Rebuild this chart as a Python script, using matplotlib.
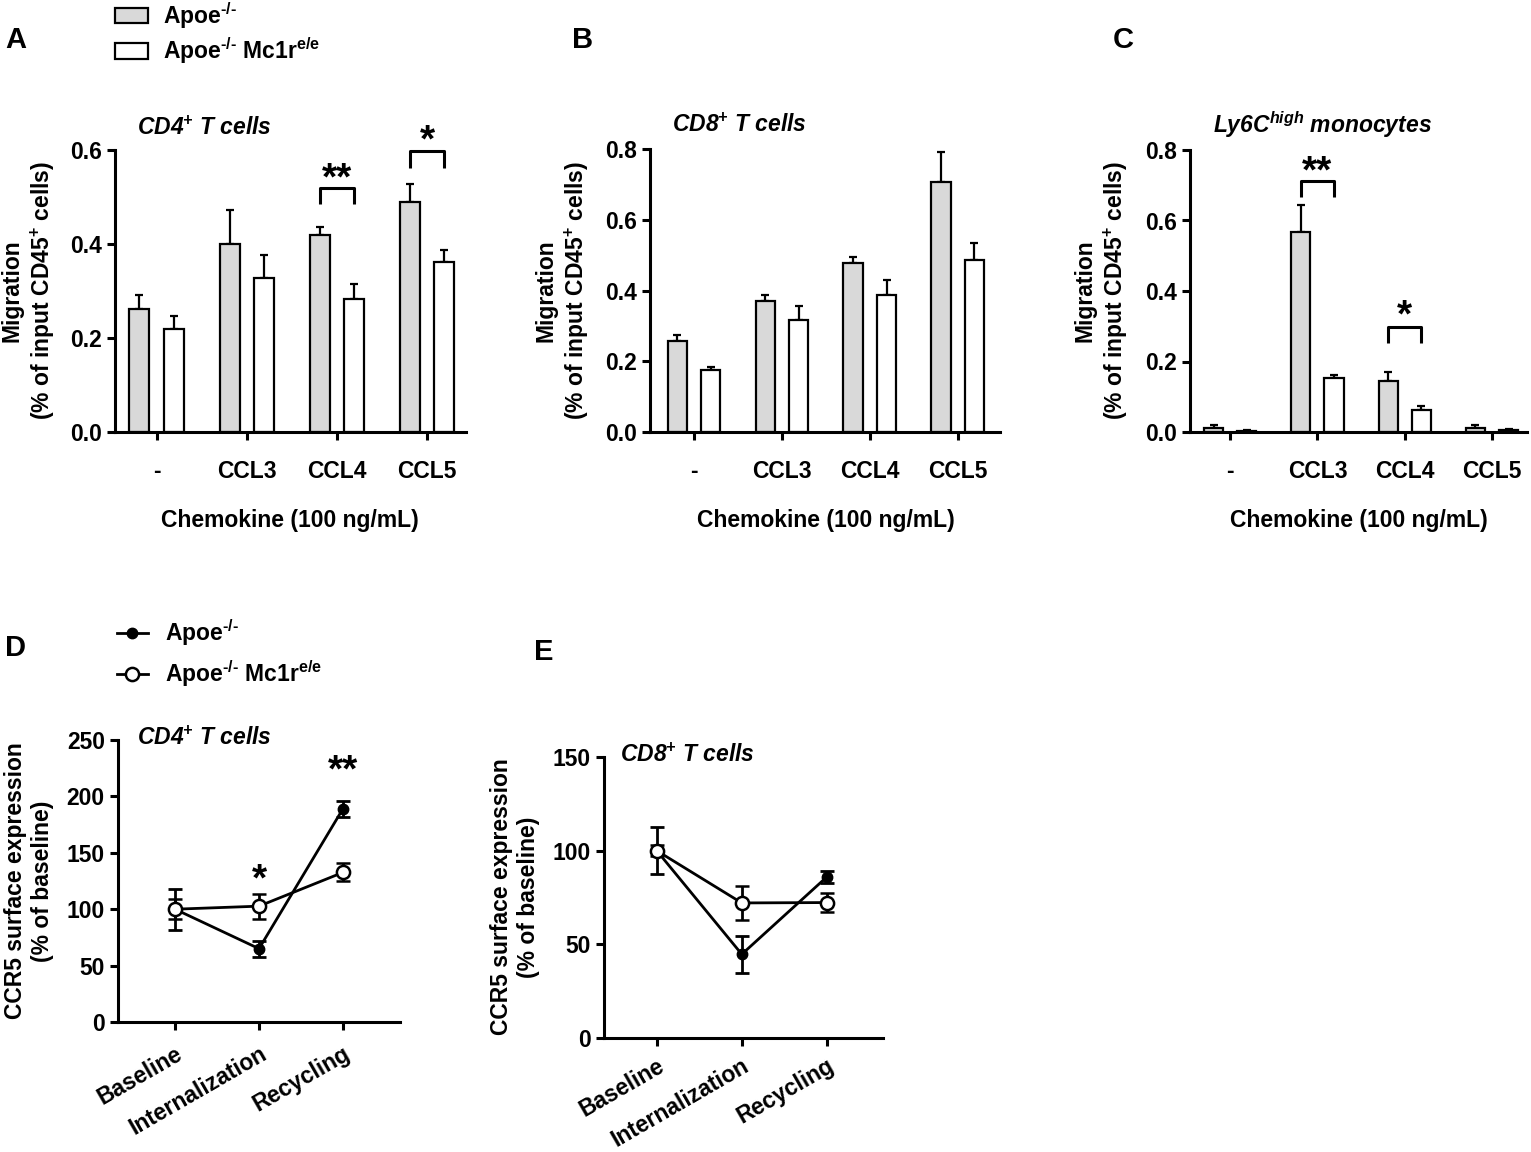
import numpy as np
import matplotlib
matplotlib.use("Agg")
import matplotlib.pyplot as plt

plt.rcParams['font.family'] = ['Liberation Sans', 'DejaVu Sans']
plt.rcParams['font.weight'] = 'bold'
plt.rcParams['mathtext.default'] = 'regular'

# ---------------- data ----------------
chemokines = ['-', 'CCL3', 'CCL4', 'CCL5']
HY = '\u2010'
series_names = ['Apoe$^{%s/%s}$' % (HY, HY), 'Apoe$^{%s/%s}$ Mc1r$^{e/e}$' % (HY, HY)]

# Panel A: CD4+ T cells migration
a_apoe = [0.261, 0.400, 0.420, 0.490]
a_apoe_sem = [0.030, 0.072, 0.016, 0.037]
a_mc1r = [0.220, 0.327, 0.283, 0.361]
a_mc1r_sem = [0.027, 0.050, 0.031, 0.026]

# Panel B: CD8+ T cells migration
b_apoe = [0.258, 0.371, 0.477, 0.708]
b_apoe_sem = [0.015, 0.017, 0.019, 0.083]
b_mc1r = [0.175, 0.318, 0.388, 0.486]
b_mc1r_sem = [0.008, 0.039, 0.043, 0.049]

# Panel C: Ly6C-high monocytes migration
c_apoe = [0.011, 0.567, 0.145, 0.012]
c_apoe_sem = [0.008, 0.076, 0.024, 0.007]
c_mc1r = [0.002, 0.154, 0.062, 0.007]
c_mc1r_sem = [0.003, 0.009, 0.011, 0.002]

# Panels D/E: CCR5 surface expression
phases = ['Baseline', 'Internalization', 'Recycling']
d_apoe = [100, 65, 189]
d_apoe_sem = [18, 7, 7]
d_mc1r = [100, 102.7, 132.6]
d_mc1r_sem = [9, 11, 8]
e_apoe = [100, 44.7, 86]
e_apoe_sem = [12.5, 10, 3]
e_mc1r = [100, 72.1, 72.3]
e_mc1r_sem = [3, 9, 5]

# significance annotations: (group index, label)
a_sig = [(2, '**'), (3, '*')]
c_sig = [(1, '**'), (2, '*')]
d_sig = [(1, '*'), (2, '**')]

# ---------------- layout ----------------
W, H = 1531, 1152
fig = plt.figure(figsize=(W / 100, H / 100), dpi=100)

def add_ax(l, r, t, b):
    return fig.add_axes([l / W, 1 - b / H, (r - l) / W, (b - t) / H])

def fx(x):
    return x / W

def fy(y):
    return 1 - y / H

FS = 16.5
SPW = 2.2
GRAY = '#d9d9d9'
STAR = 28

def style_axes(ax):
    for s in ['top', 'right']:
        ax.spines[s].set_visible(False)
    for s in ['left', 'bottom']:
        ax.spines[s].set_linewidth(SPW)
    ax.tick_params(axis='both', width=SPW, length=5.5, labelsize=FS)
    ax.tick_params(axis='y', pad=4)
    for lab in ax.get_xticklabels() + ax.get_yticklabels():
        lab.set_fontweight('bold')

def add_star(ax, x, y, lab):
    ax.annotate(lab, xy=(x, y), xytext=(0, -0.575 * STAR), textcoords='offset points',
                ha='center', va='baseline', fontsize=STAR, fontweight='bold',
                annotation_clip=False)

def bar_panel(ax, apoe, apoe_sem, mc1r, mc1r_sem, ymax, xlim, sig=None, sig_levels=None):
    x = np.arange(len(chemokines))
    off, w = 0.19, 0.22
    b1 = ax.bar(x - off, apoe, width=w, color=GRAY, edgecolor='black', linewidth=1.6, zorder=2,
                label=series_names[0])
    b2 = ax.bar(x + off, mc1r, width=w, color='white', edgecolor='black', linewidth=1.6, zorder=2,
                label=series_names[1])
    ax.errorbar(x - off, apoe, yerr=[np.zeros(len(x)), apoe_sem], fmt='none', ecolor='black',
                elinewidth=1.6, capsize=2.8, capthick=1.6, zorder=1)
    ax.errorbar(x + off, mc1r, yerr=[np.zeros(len(x)), mc1r_sem], fmt='none', ecolor='black',
                elinewidth=1.6, capsize=2.8, capthick=1.6, zorder=1)
    ax.set_xlim(*xlim)
    ax.set_ylim(0, ymax)
    ax.set_xticks(x)
    ax.set_xticklabels(chemokines)
    ax.set_yticks(np.arange(0, ymax + 1e-9, 0.2))
    ax.set_yticklabels(['%.1f' % v for v in np.arange(0, ymax + 1e-9, 0.2)])
    style_axes(ax)
    ax.tick_params(axis='x', pad=15)
    if sig:
        for (gi, lab), (ytop, yleg, ystar) in zip(sig, sig_levels):
            ax.plot([gi - off, gi - off, gi + off, gi + off], [yleg, ytop, ytop, yleg],
                    color='black', lw=SPW, clip_on=False, solid_capstyle='butt')
            add_star(ax, gi, ystar, lab)
    return b1, b2

# Panel A
axA = add_ax(115, 466, 150, 432)
bA = bar_panel(axA, a_apoe, a_apoe_sem, a_mc1r, a_mc1r_sem, 0.6, (-0.46, 3.43),
               a_sig, [(0.519, 0.486, 0.563), (0.598, 0.562, 0.645)])
# Panel B
axB = add_ax(650, 1000, 149, 432)
bar_panel(axB, b_apoe, b_apoe_sem, b_mc1r, b_mc1r_sem, 0.8, (-0.5, 3.48))
# Panel C
axC = add_ax(1190, 1527, 150, 432)
bar_panel(axC, c_apoe, c_apoe_sem, c_mc1r, c_mc1r_sem, 0.8, (-0.46, 3.40),
          c_sig, [(0.713, 0.666, 0.770), (0.298, 0.253, 0.362)])

def line_panel(ax, apoe, apoe_sem, mc1r, mc1r_sem, ymax, ystep, xlim, sig=None, sig_y=None,
               xpad=9):
    x = np.arange(len(phases))
    l1 = ax.errorbar(x, apoe, yerr=apoe_sem, fmt='-o', color='black', lw=2.0, ms=7.5,
                     mfc='black', mec='black', elinewidth=2.0, capsize=4.7, capthick=2.0,
                     zorder=3, label=series_names[0])
    l2 = ax.errorbar(x, mc1r, yerr=mc1r_sem, fmt='-o', color='black', lw=2.0, ms=9.5,
                     mfc='white', mec='black', mew=1.8, elinewidth=2.0, capsize=4.7, capthick=2.0,
                     zorder=4, label=series_names[1])
    ax.set_xlim(*xlim)
    ax.set_ylim(0, ymax)
    ax.set_xticks(x)
    ax.set_xticklabels(phases, rotation=30, ha='right', rotation_mode='anchor')
    ax.set_yticks(np.arange(0, ymax + 1, ystep))
    style_axes(ax)
    ax.tick_params(axis='x', pad=xpad)
    if sig:
        for (gi, lab), ys in zip(sig, sig_y):
            add_star(ax, gi, ys, lab)
    return l1[0], l2[0]

axD = add_ax(118, 400, 740, 1022)
lD = line_panel(axD, d_apoe, d_apoe_sem, d_mc1r, d_mc1r_sem, 250, 50, (-0.68, 2.68),
                d_sig, [136, 233])
axE = add_ax(604, 883, 757, 1038)
line_panel(axE, e_apoe, e_apoe_sem, e_mc1r, e_mc1r_sem, 150, 50, (-0.62, 2.66), xpad=6)

# ---------------- texts ----------------
def ftext(x, y, s, **kw):
    kw.setdefault('fontsize', FS)
    kw.setdefault('fontweight', 'bold')
    fig.text(fx(x), fy(y), s, **kw)

# panel letters
for lab, (x, y) in {'A': (5, 40), 'B': (572, 40), 'C': (1113, 40), 'D': (5, 648), 'E': (534, 652)}.items():
    ftext(x, y, lab, fontsize=21, ha='left', va='center')

# titles
ttl = dict(fontstyle='italic', ha='left', va='center')
ftext(137, 128, 'CD4$^{+}$ T cells', **ttl)
ftext(672, 125, 'CD8$^{+}$ T cells', **ttl)
ftext(1213, 125, 'Ly6C$^{high}$ monocytes', **ttl)
ftext(137, 738, 'CD4$^{+}$ T cells', **ttl)
ftext(620, 755, 'CD8$^{+}$ T cells', **ttl)

# y labels
mig = 'Migration\n(% of input CD45$^{+}$ cells)'
for x in (29, 563, 1102):
    ftext(x, 291, mig, rotation=90, ha='center', va='center', linespacing=1.25)
ccr = 'CCR5 surface expression\n(% of baseline)'
ftext(29, 881, ccr, rotation=90, ha='center', va='center', linespacing=1.25)
ftext(515, 897, ccr, rotation=90, ha='center', va='center', linespacing=1.25)

# x labels
for x in (290, 826, 1359):
    ftext(x, 521, 'Chemokine (100 ng/mL)', ha='center', va='center')

# legends
fig.legend(handles=list(bA), labels=series_names, loc='upper left',
           bbox_to_anchor=(fx(108), fy(-7)), frameon=False, fontsize=FS,
           handlelength=1.45, handleheight=0.68, handletextpad=0.65, labelspacing=0.2,
           borderaxespad=0, borderpad=0.3)
fig.legend(handles=list(lD), labels=series_names, loc='upper left',
           bbox_to_anchor=(fx(110), fy(610)), frameon=False, fontsize=FS, numpoints=1,
           handlelength=1.35, handletextpad=0.75, labelspacing=0.45, borderaxespad=0,
           borderpad=0.3)

fig.savefig('out.png', dpi=100)
